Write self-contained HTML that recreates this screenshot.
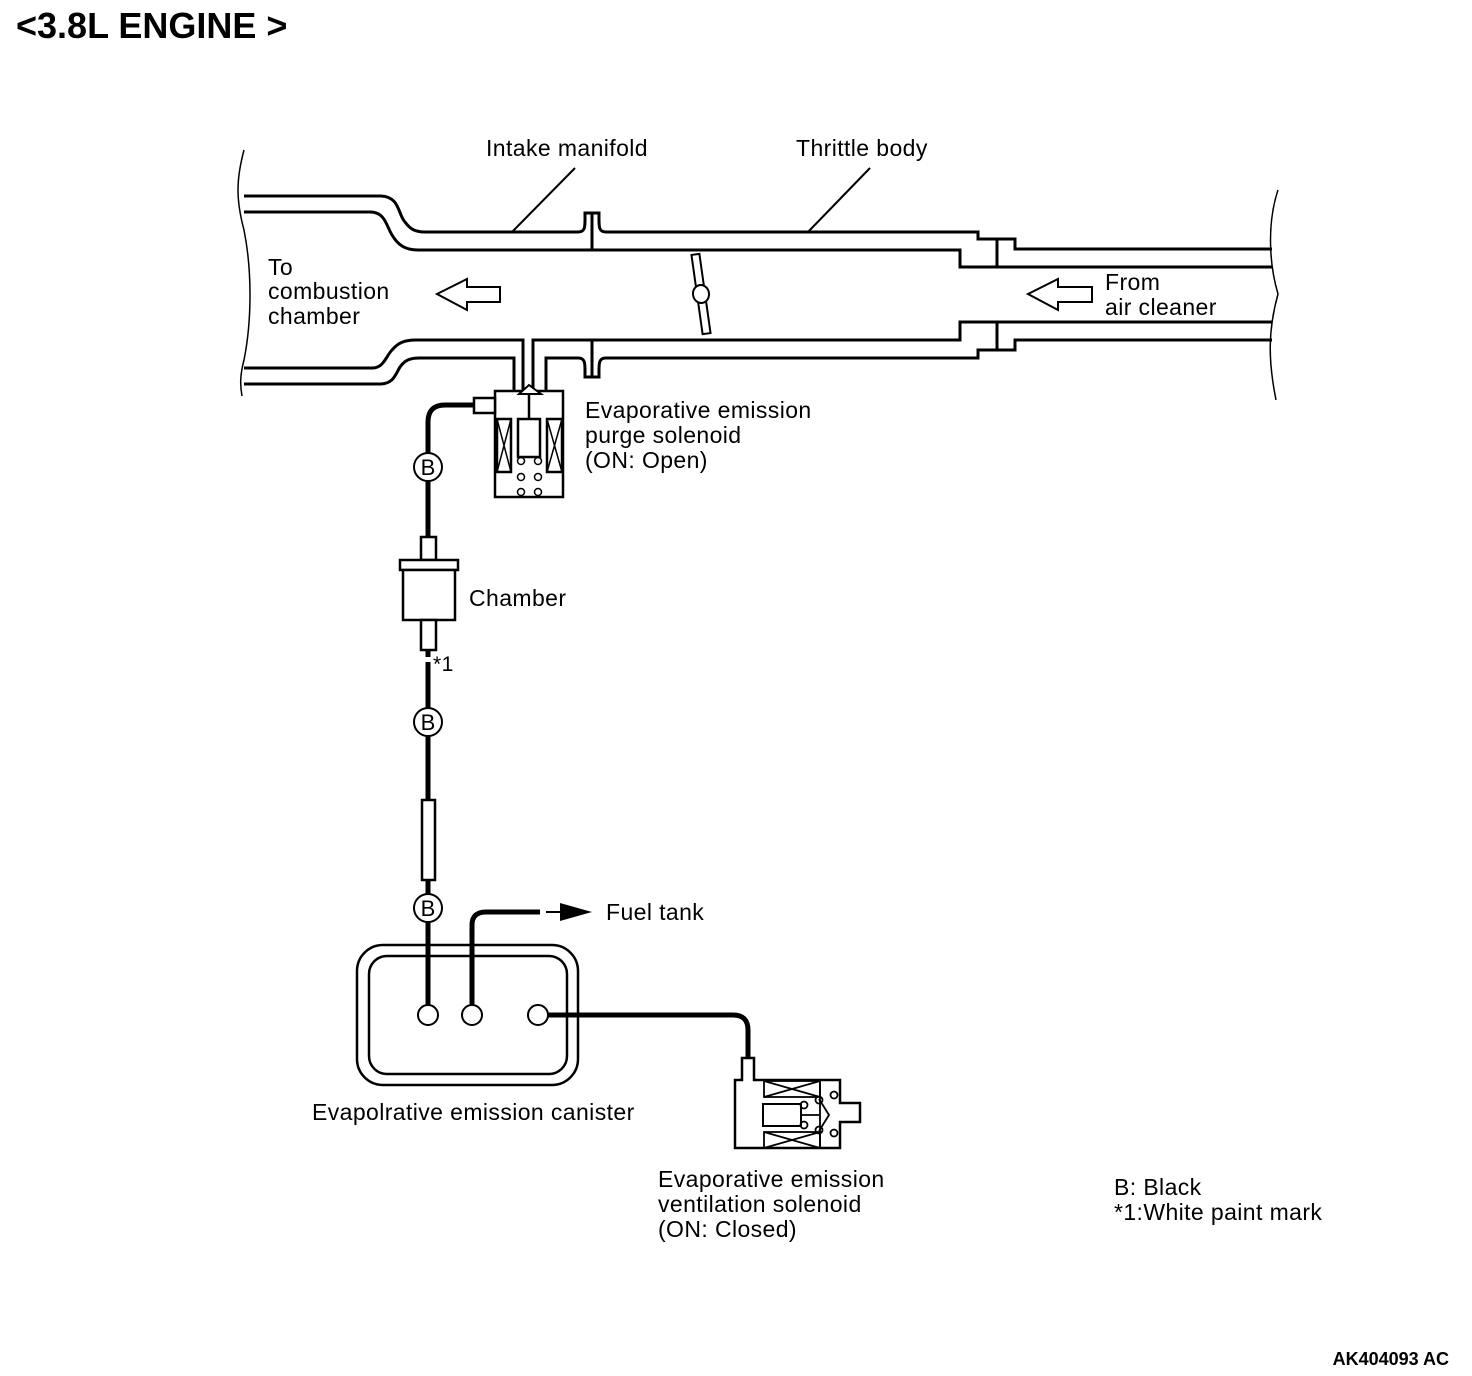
<!DOCTYPE html>
<html><head><meta charset="utf-8"><style>
html,body{margin:0;padding:0;background:#fff}
svg{display:block}
text{font-family:"Liberation Sans",Arial,sans-serif;font-size:23px;letter-spacing:0.4px;fill:#000}
</style></head><body>
<svg width="1472" height="1376" viewBox="0 0 1472 1376" xmlns="http://www.w3.org/2000/svg">
<text x="16" y="38" style="font-size:36px;font-weight:bold;letter-spacing:0">&lt;3.8L ENGINE &gt;</text>

<g fill="none" stroke="#000" stroke-width="3">
<path d="M244 150 C236 180 236 200 244 230 C252 270 252 320 244 360 C240 375 240 385 242 396" stroke-width="1.5"/>
<path d="M1278 190 C1268 220 1268 260 1278 294 C1268 330 1268 360 1276 400" stroke-width="1.5"/>

<path d="M244 196 H380 C400 196 398 215 405 222 C410 229 415 232 425 232 H578 C586 232 585 226 585 213 H599 C599 226 598 232 606 232 H978 V239 H1015 V249 H1272"/>
<path d="M244 212 H370 C385 212 386 225 392 235 C398 245 405 250 418 250 H960 V267 H1272"/>
<line x1="592" y1="213" x2="592" y2="250"/>
<line x1="997" y1="239" x2="997" y2="267"/>

<path d="M244 368 H372 C384 368 386 356 392 350 C398 343 404 340 416 340 H523 V390"/>
<path d="M533 390 V340 H960 V322 H1272"/>
<path d="M244 384 H380 C394 384 396 373 400 367 C405 360 410 358 420 358 H514 V390"/>
<path d="M546 390 V358 H578 C586 358 585 364 585 377 H599 C599 364 598 358 606 358 H978 V350 H1015 V340 H1272"/>
<line x1="592" y1="340" x2="592" y2="377"/>
<line x1="997" y1="322" x2="997" y2="350"/>

<line x1="575" y1="168" x2="512" y2="232" stroke-width="2"/>
<line x1="870" y1="168" x2="808" y2="232" stroke-width="2"/>
</g>

<path d="M437 294 L467 279 V287 H500 V302 H467 V310 Z" fill="#fff" stroke="#000" stroke-width="2"/>
<path d="M1028 294 L1058 279 V287 H1092 V302 H1058 V310 Z" fill="#fff" stroke="#000" stroke-width="2"/>

<g transform="rotate(-8 701 294)">
<rect x="697" y="254" width="8" height="80" fill="#fff" stroke="#000" stroke-width="2"/>
<ellipse cx="701" cy="294" rx="8" ry="9" fill="#fff" stroke="#000" stroke-width="2"/>
</g>

<text x="486" y="156">Intake manifold</text>
<text x="796" y="156">Thrittle body</text>
<text x="268" y="275">To</text>
<text x="268" y="299">combustion</text>
<text x="268" y="324">chamber</text>
<text x="1105" y="290">From</text>
<text x="1105" y="315">air cleaner</text>

<g fill="#fff" stroke="#000" stroke-width="2.5">
<rect x="495" y="391" width="68" height="106"/>
<rect x="474" y="398" width="21" height="15"/>
<rect x="497" y="419" width="14" height="53"/>
<rect x="547" y="419" width="15" height="53"/>
<rect x="518" y="419" width="22" height="38"/>
</g>
<g stroke="#000" stroke-width="1.5" fill="none">
<path d="M497 419 L511 472 M511 419 L497 472 M547 419 L562 472 M562 419 L547 472"/>
<line x1="529" y1="395" x2="529" y2="419" stroke-width="2.5"/>
<path d="M519 394 L529 385 L541 394 Z" fill="#fff" stroke-width="2"/>
<circle cx="521" cy="461" r="3.5"/><circle cx="538" cy="461" r="3.5"/>
<circle cx="521" cy="477" r="3.5"/><circle cx="538" cy="477" r="3.5"/>
<circle cx="521" cy="492" r="3.5"/><circle cx="538" cy="492" r="3.5"/>
</g>
<text x="585" y="418">Evaporative emission</text>
<text x="585" y="443">purge solenoid</text>
<text x="585" y="468">(ON: Open)</text>

<g fill="none" stroke="#000" stroke-width="5">
<path d="M474 405 H445 Q428 405 428 422 V537"/>
<line x1="428" y1="650" x2="428" y2="800"/>
<line x1="428" y1="880" x2="428" y2="1005"/>
<path d="M472 1005 V925 Q472 912 486 912 H540"/>
<path d="M548 1015 H733 Q748 1015 748 1030 V1058"/>
</g>
<line x1="546" y1="912" x2="562" y2="912" stroke="#000" stroke-width="2"/>
<path d="M560 903 L592 912 L560 921 Z" fill="#000"/>
<text x="606" y="920">Fuel tank</text>

<g fill="#fff" stroke="#000" stroke-width="2">
<circle cx="428" cy="467" r="14"/>
<circle cx="428" cy="722" r="14"/>
<circle cx="428" cy="908" r="14"/>
</g>
<g text-anchor="middle">
<text x="428" y="475" style="font-size:22px;letter-spacing:0">B</text>
<text x="428" y="730" style="font-size:22px;letter-spacing:0">B</text>
<text x="428" y="916" style="font-size:22px;letter-spacing:0">B</text>
</g>

<g fill="#fff" stroke="#000" stroke-width="2.5">
<rect x="421" y="537" width="15" height="23"/>
<rect x="400" y="560" width="58" height="10"/>
<rect x="403" y="570" width="52" height="50"/>
<rect x="421" y="620" width="15" height="30"/>
<rect x="422" y="800" width="13" height="80"/>
</g>
<rect x="425" y="657" width="6" height="5" fill="#fff"/>
<text x="469" y="606">Chamber</text>
<text x="433" y="671" style="font-size:21px">*1</text>

<g fill="none" stroke="#000" stroke-width="2.5">
<rect x="357" y="945" width="221" height="140" rx="26"/>
<rect x="369" y="956" width="198" height="118" rx="18"/>
</g>
<g fill="#fff" stroke="#000" stroke-width="2">
<circle cx="428" cy="1015" r="10"/>
<circle cx="472" cy="1015" r="10"/>
<circle cx="538" cy="1015" r="10"/>
</g>
<text x="312" y="1120">Evapolrative emission canister</text>

<g fill="#fff" stroke="#000" stroke-width="2.5">
<path d="M742 1058 H754 V1080 H840 V1103 H860 V1122 H840 V1148 H735 V1080 H742 Z"/>
</g>
<g fill="none" stroke="#000" stroke-width="1.8">
<rect x="764" y="1081" width="56" height="16"/>
<rect x="764" y="1132" width="56" height="16"/>
<path d="M764 1081 L820 1097 M820 1081 L764 1097 M764 1132 L820 1148 M820 1132 L764 1148"/>
<rect x="763" y="1104" width="38" height="22" stroke-width="2"/>
<path d="M801 1115 H819 M819 1099 L829 1115 L819 1131"/>
<line x1="820" y1="1080" x2="820" y2="1148"/>
<circle cx="804" cy="1105" r="3.5"/><circle cx="804" cy="1125" r="3.5"/>
<circle cx="819" cy="1100" r="3.5"/><circle cx="819" cy="1130" r="3.5"/>
<circle cx="834" cy="1095" r="3.5"/><circle cx="834" cy="1133" r="3.5"/>
</g>
<text x="658" y="1187">Evaporative emission</text>
<text x="658" y="1212">ventilation solenoid</text>
<text x="658" y="1237">(ON: Closed)</text>

<text x="1114" y="1195">B: Black</text>
<text x="1114" y="1220">*1:White paint mark</text>
<text x="1449" y="1365" text-anchor="end" style="font-size:18px;font-weight:bold;letter-spacing:0">AK404093 AC</text>
</svg>
</body></html>
